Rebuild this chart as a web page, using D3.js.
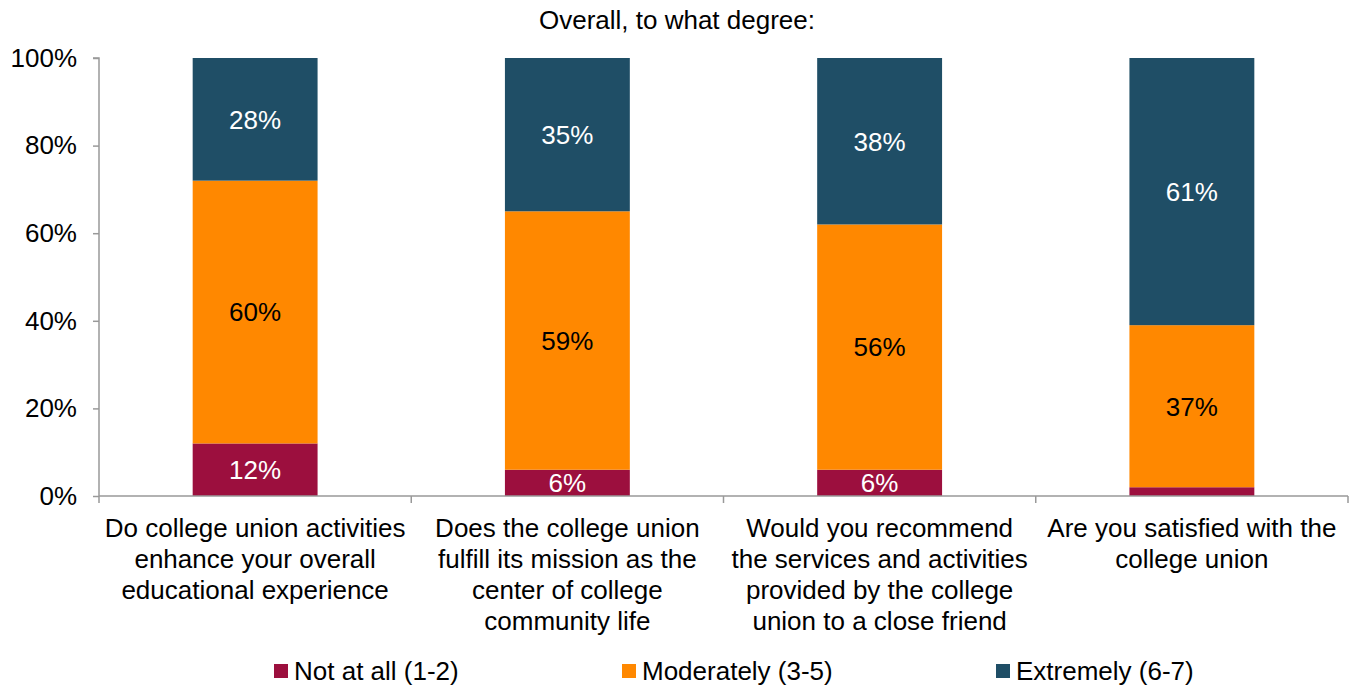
<!DOCTYPE html>
<html>
<head>
<meta charset="utf-8">
<script src="https://cdn.jsdelivr.net/npm/d3@7"></script>
<style>
  html, body { margin: 0; padding: 0; background: #fff; }
  svg { display: block; font-family: "Liberation Sans", Arial, sans-serif; }
</style>
</head>
<body>
<svg id="chart" width="1354" height="688"></svg>
<script>
// Survey questions (x categories), one line per array entry
const categories = [
  ["Do college union activities", "enhance your overall", "educational experience"],
  ["Does the college union", "fulfill its mission as the", "center of college", "community life"],
  ["Would you recommend", "the services and activities", "provided by the college", "union to a close friend"],
  ["Are you satisfied with the", "college union"]
];

// Response shares (%) per question
const notAtAll   = [12, 6, 6, 2];
const moderately = [60, 59, 56, 37];
const extremely  = [28, 35, 38, 61];

const seriesNames = ["Not at all (1-2)", "Moderately (3-5)", "Extremely (6-7)"];
const seriesColors = ["#9C0F3E", "#FF8800", "#1F4E66"];
const yTicks = [0, 20, 40, 60, 80, 100];

const FS = 26;
const svg = d3.select("#chart");
const margin = { left: 99, right: 6, top: 58, bottom: 192 };
const W = 1354, H = 688;

const x = d3.scaleBand()
  .domain(d3.range(categories.length))
  .range([margin.left, W - margin.right])
  .paddingInner(0.6)
  .paddingOuter(0.3);

const y = d3.scaleLinear().domain([0, 100]).range([H - margin.bottom, margin.top]);

// Stack the three series
const rows = categories.map((c, i) => ({ i, s0: notAtAll[i], s1: moderately[i], s2: extremely[i] }));
const stack = d3.stack().keys(["s0", "s1", "s2"]);
const layers = stack(rows);

// Title
svg.append("text")
  .attr("x", 677).attr("y", 29)
  .attr("text-anchor", "middle")
  .attr("font-size", FS)
  .attr("fill", "#000")
  .text("Overall, to what degree:");

// Bars
layers.forEach((layer, k) => {
  const g = svg.append("g");
  g.selectAll("rect").data(layer).join("rect")
    .attr("x", d => x(d.data.i))
    .attr("width", x.bandwidth())
    .attr("y", d => y(d[1]))
    .attr("height", d => y(d[0]) - y(d[1]))
    .attr("fill", seriesColors[k]);
  // Value labels (skip very thin segments)
  g.selectAll("text").data(layer.filter(d => d[1] - d[0] >= 5)).join("text")
    .attr("x", d => x(d.data.i) + x.bandwidth() / 2)
    .attr("y", d => (y(d[0]) + y(d[1])) / 2)
    .attr("dy", "0.36em")
    .attr("text-anchor", "middle")
    .attr("font-size", FS)
    .attr("fill", k === 1 ? "#000" : "#fff")
    .text(d => Math.round(d[1] - d[0]) + "%");
});

// Y axis
const yAxis = d3.axisLeft(y).tickValues(yTicks).tickFormat(d => d + "%").tickSize(6).tickPadding(16);
const gy = svg.append("g").attr("transform", `translate(${margin.left},0)`).call(yAxis);
gy.select(".domain").attr("stroke", "#999").attr("stroke-width", 1.5).attr("d", `M-6,${y(100)}H0V${y(0)}`);
gy.selectAll(".tick line").attr("stroke", "#999").attr("stroke-width", 1.5);
gy.selectAll(".tick text").attr("font-size", FS).attr("fill", "#000").attr("font-family", "Liberation Sans, Arial, sans-serif");

// X axis baseline with category separators
const gx = svg.append("g");
gx.append("line")
  .attr("x1", margin.left).attr("x2", W - margin.right)
  .attr("y1", y(0)).attr("y2", y(0))
  .attr("stroke", "#999").attr("stroke-width", 1.5);
const bounds = d3.range(categories.length + 1).map(i => margin.left + i * (W - margin.right - margin.left) / categories.length);
gx.selectAll("line.sep").data(bounds).join("line")
  .attr("class", "sep")
  .attr("x1", d => d).attr("x2", d => d)
  .attr("y1", y(0)).attr("y2", y(0) + 7)
  .attr("stroke", "#999").attr("stroke-width", 1.5);

// Category labels
categories.forEach((lines, i) => {
  const t = svg.append("text")
    .attr("text-anchor", "middle")
    .attr("font-size", FS)
    .attr("fill", "#000");
  lines.forEach((ln, j) => {
    t.append("tspan")
      .attr("x", x(i) + x.bandwidth() / 2)
      .attr("y", 537 + j * 31)
      .text(ln);
  });
});

// Legend
const legendX = [274, 622, 996];
seriesNames.forEach((name, k) => {
  const g = svg.append("g").attr("transform", `translate(${legendX[k]},671)`);
  g.append("rect").attr("x", 0).attr("y", -7).attr("width", 14).attr("height", 14).attr("fill", seriesColors[k]);
  g.append("text").attr("x", 20).attr("y", 0).attr("dy", "0.36em")
    .attr("font-size", FS).attr("fill", "#000").text(name);
});
</script>
</body>
</html>
